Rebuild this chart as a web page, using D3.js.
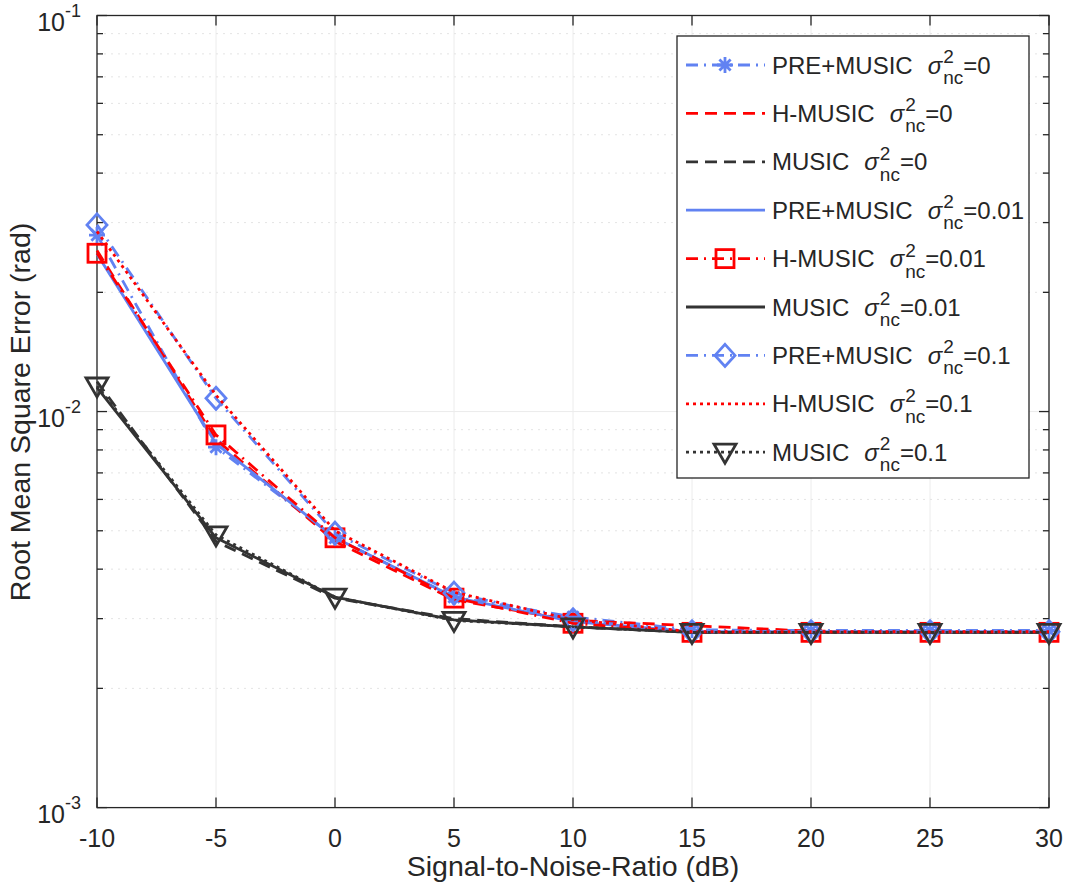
<!DOCTYPE html>
<html><head><meta charset="utf-8">
<script src="https://cdn.jsdelivr.net/npm/d3@7"></script>
<style>body{margin:0;background:#fff}svg{display:block}text{font-family:"Liberation Sans",Arial,sans-serif;fill:#262626}</style>
</head><body><svg id="c" width="1065" height="891"></svg>
<script>
const snr = [-10, -5, 0, 5, 10, 15, 20, 25, 30];
const pre0    = [0.0279, 0.00813, 0.00480, 0.00340, 0.00303, 0.00281, 0.00280, 0.00280, 0.00280];
const h0      = [0.0255, 0.00850, 0.00470, 0.00335, 0.00297, 0.00288, 0.00279, 0.00277, 0.00277];
const music0  = [0.0119, 0.00470, 0.00338, 0.00300, 0.00286, 0.00277, 0.00277, 0.00277, 0.00277];
const pre001  = [0.0250, 0.00830, 0.00480, 0.00340, 0.00295, 0.00278, 0.00278, 0.00278, 0.00278];
const h001    = [0.0251, 0.00873, 0.00480, 0.00338, 0.00292, 0.00277, 0.00277, 0.00277, 0.00277];
const music001= [0.0115, 0.00480, 0.00340, 0.00298, 0.00286, 0.00277, 0.00277, 0.00277, 0.00277];
const pre01   = [0.0296, 0.01080, 0.00493, 0.00348, 0.00298, 0.00278, 0.00278, 0.00278, 0.00278];
const h01     = [0.0285, 0.01100, 0.00500, 0.00350, 0.00298, 0.00278, 0.00278, 0.00278, 0.00278];
const music01 = [0.0116, 0.00488, 0.00340, 0.00297, 0.00286, 0.00277, 0.00277, 0.00277, 0.00277];
const methods = ["PRE+MUSIC","H-MUSIC","MUSIC","PRE+MUSIC","H-MUSIC","MUSIC","PRE+MUSIC","H-MUSIC","MUSIC"];
const sigmas  = ["0","0","0","0.01","0.01","0.01","0.1","0.1","0.1"];
const xTicks = [-10,-5,0,5,10,15,20,25,30];
const yMajor = [1e-3,1e-2,1e-1];
const yExp = ["-3","-2","-1"];

const BLUE="#6182F2", RED="#FF0000", DARK="#333333";
const DASH="12,7", DASHDOT="12,6,2,6", DOT="3,4";
const series = [
  {v:pre0, c:BLUE, d:DASHDOT, m:"ast"},
  {v:h0, c:RED, d:DASH, m:null},
  {v:music0, c:DARK, d:DASH, m:null},
  {v:pre001, c:BLUE, d:null, m:null},
  {v:h001, c:RED, d:DASHDOT, m:"sq"},
  {v:music001, c:DARK, d:null, m:null},
  {v:pre01, c:BLUE, d:DASHDOT, m:"dia"},
  {v:h01, c:RED, d:DOT, m:null},
  {v:music01, c:DARK, d:DOT, m:"tri"}
];

const svg = d3.select("#c");
const L=97, R=1049, T=15.5, B=807.6;
const x = d3.scaleLinear().domain([-10,30]).range([L,R]);
const y = d3.scaleLog().domain([1e-3,1e-1]).range([B,T]);

// grid
const g = svg.append("g");
xTicks.forEach(t=>g.append("line").attr("x1",x(t)).attr("x2",x(t)).attr("y1",T).attr("y2",B).attr("stroke","#ececec").attr("stroke-width",1));
const minors=[];
[1e-3,1e-2].forEach(d=>{for(let k=2;k<=9;k++) minors.push(d*k);});
minors.forEach(v=>g.append("line").attr("x1",L).attr("x2",R).attr("y1",y(v)).attr("y2",y(v)).attr("stroke","#e4e4e4").attr("stroke-dasharray","2,5"));
yMajor.forEach(v=>g.append("line").attr("x1",L).attr("x2",R).attr("y1",y(v)).attr("y2",y(v)).attr("stroke","#ececec"));

// axes
const ax = svg.append("g").attr("stroke","#262626").attr("stroke-width",1.3);
ax.append("rect").attr("x",L).attr("y",T).attr("width",R-L).attr("height",B-T).attr("fill","none");
xTicks.forEach(t=>{
  ax.append("line").attr("x1",x(t)).attr("x2",x(t)).attr("y1",B).attr("y2",B-10);
  ax.append("line").attr("x1",x(t)).attr("x2",x(t)).attr("y1",T).attr("y2",T+10);
});
yMajor.forEach(v=>{
  ax.append("line").attr("x1",L).attr("x2",L+10).attr("y1",y(v)).attr("y2",y(v));
  ax.append("line").attr("x1",R).attr("x2",R-10).attr("y1",y(v)).attr("y2",y(v));
});
minors.forEach(v=>{
  ax.append("line").attr("x1",L).attr("x2",L+6).attr("y1",y(v)).attr("y2",y(v));
  ax.append("line").attr("x1",R).attr("x2",R-6).attr("y1",y(v)).attr("y2",y(v));
});

// tick labels
xTicks.forEach(t=>svg.append("text").attr("x",x(t)).attr("y",B+39).attr("text-anchor","middle").attr("font-size",25).text(t));
yMajor.forEach((v,i)=>{
  svg.append("text").attr("x",65).attr("y",y(v)+15).attr("text-anchor","end").attr("font-size",25).text("10");
  svg.append("text").attr("x",65).attr("y",y(v)+1.5).attr("font-size",18).text(yExp[i]);
});
svg.append("text").attr("x",573).attr("y",876).attr("text-anchor","middle").attr("font-size",28.5).text("Signal-to-Noise-Ratio (dB)");
svg.append("text").attr("transform","translate(30,412) rotate(-90)").attr("text-anchor","middle").attr("font-size",28.5).text("Root Mean Square Error (rad)");

// markers
function marker(sel, type, cx, cy, col){
  const gg = sel.append("g").attr("transform",`translate(${cx},${cy})`).attr("fill","none").attr("stroke",col).attr("stroke-width",2.8);
  if(type==="ast"){
    const r=8;
    gg.append("path").attr("d",`M${-r},0H${r}M0,${-r}V${r}M${-r*0.7},${-r*0.7}L${r*0.7},${r*0.7}M${-r*0.7},${r*0.7}L${r*0.7},${-r*0.7}`);
  } else if(type==="sq"){
    gg.append("rect").attr("x",-9).attr("y",-9).attr("width",18).attr("height",18);
  } else if(type==="dia"){
    gg.append("path").attr("d","M0,-11L10,0L0,11L-10,0Z");
  } else if(type==="tri"){
    gg.append("path").attr("d","M-11,-8L11,-8L0,11Z");
  }
}

const line = d3.line().x((d,i)=>x(snr[i])).y(d=>y(d));
const plot = svg.append("g");
series.forEach(s=>{
  plot.append("path").datum(s.v).attr("d",line).attr("fill","none").attr("stroke",s.c).attr("stroke-width",2.8)
    .attr("stroke-dasharray",s.d).attr("stroke-linejoin","round");
  if(s.m) s.v.forEach((v,i)=>marker(plot,s.m,x(snr[i]),y(v),s.c));
});

// legend
const lg = svg.append("g");
lg.append("rect").attr("x",677).attr("y",36).attr("width",352).attr("height",442).attr("fill","#fff").attr("stroke","#262626").attr("stroke-width",1.3);
series.forEach((s,i)=>{
  const cy = 65 + i*48.4;
  lg.append("line").attr("x1",686).attr("x2",765).attr("y1",cy).attr("y2",cy).attr("stroke",s.c).attr("stroke-width",2.8).attr("stroke-dasharray",s.d);
  if(s.m) marker(lg,s.m,725,cy,s.c);
  const t = lg.append("text").attr("x",772).attr("y",cy+8.5).attr("font-size",24).text(methods[i]);
  let xx = 772 + t.node().getComputedTextLength() + 15;
  const sg = lg.append("text").attr("x",xx).attr("y",cy+8.5).attr("font-size",24).attr("font-style","italic").text("σ");
  xx += sg.node().getComputedTextLength()+1;
  const sup = lg.append("text").attr("x",xx).attr("y",cy-2).attr("font-size",19).text("2");
  const sub = lg.append("text").attr("x",xx).attr("y",cy+19).attr("font-size",19).text("nc");
  xx += Math.max(sup.node().getComputedTextLength(), sub.node().getComputedTextLength());
  lg.append("text").attr("x",xx).attr("y",cy+8.5).attr("font-size",24).text("="+sigmas[i]);
});
</script></body></html>
